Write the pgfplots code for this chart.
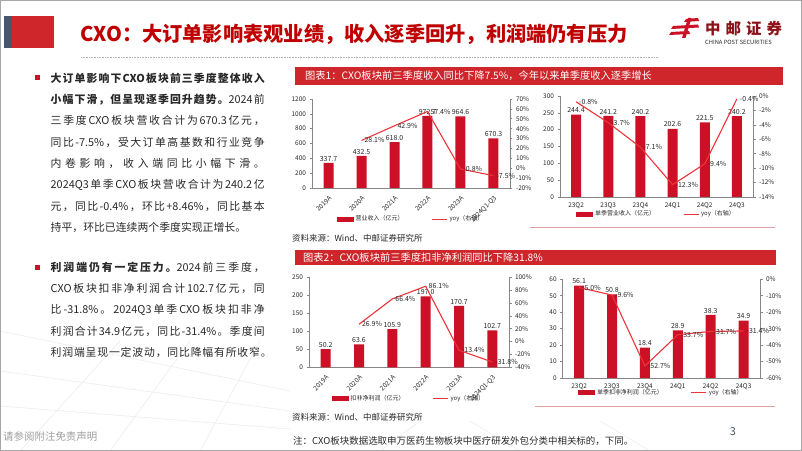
\documentclass[border=0pt]{standalone}
\usepackage{fontspec}
\setmainfont{Noto Sans CJK SC}
\usepackage{pgfplots}
\pgfplotsset{compat=1.18}

% give CJK characters their own class and put stretchable glue between them,
% so that \makebox[..][s] can justify a line
\makeatletter
\count@="4E00
\loop\ifnum\count@<"A000 \XeTeXcharclass\count@=7 \advance\count@\@ne\repeat
\XeTeXcharclass"FF0C=7 \XeTeXcharclass"3002=7 \XeTeXcharclass"3001=7
\XeTeXcharclass"FF1A=7 \XeTeXcharclass"FF08=7 \XeTeXcharclass"FF09=7
\makeatother
\XeTeXinterchartokenstate=1
\newcommand{\cjkglue}{\hskip 0pt plus 1fil\relax}
\XeTeXinterchartoks 7 7 = {\cjkglue}
\XeTeXinterchartoks 0 7 = {\cjkglue}
\XeTeXinterchartoks 7 0 = {\cjkglue}

\definecolor{barred}{RGB}{204,16,38}
\definecolor{linered}{RGB}{236,52,58}
\definecolor{banner}{RGB}{206,38,42}
\definecolor{titlered}{RGB}{192,0,0}
\definecolor{txt}{RGB}{40,40,40}
\definecolor{axgray}{RGB}{135,135,135}
\definecolor{slate}{RGB}{70,86,108}
\definecolor{logored}{RGB}{140,18,24}
\definecolor{pinkline}{RGB}{226,160,160}

\newcommand{\jl}[1]{\makebox[214bp][s]{#1}}

\pgfplotsset{
  base/.style={
    scale only axis, clip=false,
    xmin=-0.5, xmax=5.5, xtick={0,...,5},
    scaled y ticks=false,
    tick label style={font=\fontsize{6.5}{7}\selectfont, text=txt},
    /pgf/number format/assume math mode=true,
    /pgf/number format/1000 sep={},
    axis line style={draw=axgray, line width=0.6bp, -},
    every tick/.style={draw=axgray, line width=0.6bp},
    tick align=outside, major tick length=2.5bp,
  },
  bax/.style={base, axis y line*=left, axis x line*=bottom,
    xtick style={draw=none},
    legend style={draw=none, fill=none, font=\fontsize{6}{7}\selectfont,
      text=txt, legend columns=2,
      /tikz/every even column/.append style={column sep=26bp}},
    legend cell align=left},
  lax/.style={base, axis y line*=right, axis x line=none,
    yticklabel={\pgfmathprintnumber{\tick}\%}},
  barplot/.style={ybar, bar width=10bp, fill=barred, draw=none,
    point meta=explicit symbolic, nodes near coords,
    nodes near coords style={font=\fontsize{7}{8}\selectfont, text=txt, inner sep=1.5bp},
    legend image code/.code={\fill[barred] (0bp,-2.5bp) rectangle (17bp,2.5bp);}},
  yoyline/.style={linered, line width=1.1bp, mark=none,
    point meta=explicit symbolic, nodes near coords={\pgfplotspointmeta\%},
    nodes near coords style={anchor=west, xshift=1.5bp,
      font=\fontsize{7}{8}\selectfont, text=txt, inner sep=1bp}},
  lineleg/.style={legend image code/.code={\draw[linered, line width=1.1bp] (0bp,0bp) -- (15bp,0bp);}},
}

\begin{document}
\begin{tikzpicture}
\useasboundingbox (0,0) rectangle (802bp,451bp);
\fill[white] (0,0) rectangle (802bp,451bp);

% faint background lines
\begin{scope}[gray!14, line width=0.6bp]
\draw (0bp,120bp) -- (290bp,60bp);
\draw (0bp,80bp) -- (290bp,40bp);
\draw (0bp,45bp) -- (290bp,22bp);
\draw (20bp,0bp) -- (120bp,110bp);
\draw (110bp,0bp) -- (190bp,110bp);
\draw (200bp,0bp) -- (260bp,110bp);
\draw (380bp,0bp) -- (420bp,30bp);
\draw (520bp,0bp) -- (470bp,30bp);
\draw (650bp,0bp) -- (600bp,30bp);
\end{scope}
\draw[gray!70, line width=1bp] (0.5bp,0.5bp) rectangle (801.5bp,450.5bp);

% header
\fill[slate] (4bp,403.3bp) rectangle (11.7bp,435bp);
\fill[banner] (12.3bp,403.3bp) rectangle (54.3bp,435bp);
\node[anchor=west, inner sep=0, text=titlered, font=\fontsize{20.3}{21}\selectfont\bfseries]
  at (80bp,416.5bp) {CXO：大订单影响表观业绩，收入逐季回升，利润端仍有压力};
\draw[gray!60, densely dotted, line width=0.6bp] (81bp,394bp) -- (658bp,394bp);

% logo
\fill[barred] (684bp,429bp) -- (699bp,430bp) -- (698bp,433bp) -- (686bp,432bp) -- cycle;
\fill[barred] (671bp,422bp) -- (699bp,423.5bp) -- (698bp,426.5bp) -- (673bp,425bp) -- cycle;
\fill[barred] (669bp,416bp) -- (690bp,417bp) -- (689bp,420bp) -- (671bp,419bp) -- cycle;
\fill[barred] (688bp,433bp) -- (691.5bp,433bp) -- (685.5bp,413bp) -- (682bp,413bp) -- cycle;
\node[anchor=west, inner sep=0, text=logored, font=\fontsize{15.5}{16}\selectfont\bfseries]
  at (705bp,422bp) {中\hspace{5bp}邮\hspace{5bp}证\hspace{5bp}券};
\node[anchor=west, inner sep=0, text=txt, font=\fontsize{5.8}{6}\selectfont]
  at (705bp,409bp) {CHINA POST SECURITIES};

% left text
\fill[barred] (34.5bp,370.5bp) rectangle (39.5bp,375.5bp);
\begin{scope}[every node/.style={anchor=west, inner sep=0, text=txt, font=\fontsize{10.9}{12}\selectfont}]
\node at (50.5bp,373bp) {\jl{\bfseries 大订单影响下CXO板块前三季度整体收入}};
\node at (50.5bp,351.6bp) {\jl{{\bfseries 小幅下滑，但呈现逐季回升趋势。}2024前}};
\node at (50.5bp,330.2bp) {\jl{三季度CXO板块营收合计为670.3亿元，}};
\node at (50.5bp,308.8bp) {\jl{同比-7.5\%，受大订单高基数和行业竞争}};
\node at (50.5bp,287.4bp) {\jl{内卷影响，收入端同比小幅下滑。}};
\node at (50.5bp,266bp) {\jl{2024Q3单季CXO板块营收合计为240.2亿}};
\node at (50.5bp,244.6bp) {\jl{元，同比-0.4\%，环比+8.46\%，同比基本}};
\node at (50.5bp,223.2bp) {持平，环比已连续两个季度实现正增长。};
\node at (50.5bp,183.5bp) {\jl{{\bfseries 利润端仍有一定压力。}2024前三季度，}};
\node at (50.5bp,162.3bp) {\jl{CXO板块扣非净利润合计102.7亿元，同}};
\node at (50.5bp,141.1bp) {\jl{比-31.8\%。2024Q3单季CXO板块扣非净}};
\node at (50.5bp,119.9bp) {\jl{利润合计34.9亿元，同比-31.4\%。季度间}};
\node at (50.5bp,98.7bp) {\makebox[221bp][s]{利润端呈现一定波动，同比降幅有所收窄。}};
\end{scope}
\fill[barred] (34.5bp,181bp) rectangle (39.5bp,186bp);

% footer
\node[anchor=west, inner sep=0, text=gray!75, font=\fontsize{10.5}{11}\selectfont]
  at (3bp,14bp) {请参阅附注免责声明};
\node[anchor=west, inner sep=0, text=txt, font=\fontsize{9.5}{10}\selectfont]
  at (293bp,10bp) {注：CXO板块数据选取申万医药生物板块中医疗研发外包分类中相关标的，下同。};
\node[inner sep=0, text=slate, font=\fontsize{11}{12}\selectfont] at (733bp,19bp) {3};

% banners
\fill[banner] (295bp,366bp) rectangle (783bp,384bp);
\node[anchor=west, inner sep=0, text=white, font=\fontsize{10.3}{11}\selectfont]
  at (305bp,375bp) {图表1：CXO板块前三季度收入同比下降7.5\%，今年以来单季度收入逐季增长};
\fill[banner] (295bp,185.5bp) rectangle (776bp,201bp);
\node[anchor=west, inner sep=0, text=white, font=\fontsize{10.3}{11}\selectfont]
  at (303bp,193.3bp) {图表2：CXO板块前三季度扣非净利润同比下降31.8\%};

\draw[pinkline, line width=1bp] (530bp,223bp) -- (775bp,223bp);
\draw[pinkline, line width=1bp] (535bp,44bp) -- (775bp,44bp);

\node[anchor=west, inner sep=0, text=txt, font=\fontsize{8.5}{9}\selectfont]
  at (292bp,213bp) {资料来源：Wind、中邮证券研究所};
\node[anchor=west, inner sep=0, text=txt, font=\fontsize{8.5}{9}\selectfont]
  at (292bp,34bp) {资料来源：Wind、中邮证券研究所};

% chart 1: annual revenue
\begin{axis}[bax, at={(312bp,263bp)}, anchor=south west, width=198bp, height=89bp,
  ymin=0, ymax=1200, ytick={0,200,...,1200},
  xticklabels={2019A,2020A,2021A,2022A,2023A,2024Q1-Q3},
  xticklabel style={rotate=45, anchor=north east},
  legend style={at={(0.5,-0.35)}, anchor=center}]
\addplot[barplot] table[meta=l] {
x y l
0 337.7 337.7
1 432.5 432.5
2 618.0 618.0
3 972.7 972.7
4 964.6 964.6
5 670.3 670.3
};
\addlegendentry{营业收入（亿元）}
\addlegendimage{lineleg}
\addlegendentry{yoy（右轴）}
\end{axis}
\begin{axis}[lax, at={(312bp,263bp)}, anchor=south west, width=198bp, height=89bp,
  ymin=-20, ymax=70, ytick={-20,-10,...,70}]
\addplot[yoyline] table[meta=l] {
x y l
1 28.1 28.1
2 42.9 42.9
3 57.4 57.4
4 -0.8 -0.8
5 -7.5 -7.5
};
\end{axis}

% chart 2: quarterly revenue
\begin{axis}[bax, at={(560bp,254bp)}, anchor=south west, width=193bp, height=101bp,
  ymin=0, ymax=300, ytick={0,50,...,300},
  xticklabels={23Q2,23Q3,23Q4,24Q1,24Q2,24Q3},
  legend style={at={(0.5,-0.17)}, anchor=center}]
\addplot[barplot] table[meta=l] {
x y l
0 244.4 244.4
1 241.2 241.2
2 240.2 240.2
3 202.6 202.6
4 221.5 221.5
5 240.2 240.2
};
\addlegendentry{单季营业收入（亿元）}
\addlegendimage{lineleg}
\addlegendentry{yoy（右轴）}
\end{axis}
\begin{axis}[lax, at={(560bp,254bp)}, anchor=south west, width=193bp, height=101bp,
  ymin=-14, ymax=0, ytick={-14,-12,...,0}]
\addplot[yoyline] table[meta=l] {
x y l
0 -0.8 -0.8
1 -3.7 -3.7
2 -7.1 -7.1
3 -12.3 -12.3
4 -9.4 -9.4
5 -0.4 -0.4
};
\end{axis}

% chart 3: annual net profit
\begin{axis}[bax, at={(309bp,83.7bp)}, anchor=south west, width=200bp, height=90bp,
  ymin=0, ymax=250, ytick={0,50,...,250},
  xticklabels={2019A,2020A,2021A,2022A,2023A,2024Q1-Q3},
  xticklabel style={rotate=45, anchor=north east},
  legend style={at={(0.5,-0.35)}, anchor=center}]
\addplot[barplot] table[meta=l] {
x y l
0 50.2 50.2
1 63.6 63.6
2 105.9 105.9
3 197.0 197.0
4 170.7 170.7
5 102.7 102.7
};
\addlegendentry{扣非净利润（亿元）}
\addlegendimage{lineleg}
\addlegendentry{yoy（右轴）}
\end{axis}
\begin{axis}[lax, at={(309bp,83.7bp)}, anchor=south west, width=200bp, height=90bp,
  ymin=-40, ymax=100, ytick={-40,-20,...,100}]
\addplot[yoyline] table[meta=l] {
x y l
1 26.9 26.9
2 66.4 66.4
3 86.1 86.1
4 -13.4 -13.4
5 -31.8 -31.8
};
\end{axis}

% chart 4: quarterly net profit
\begin{axis}[bax, at={(562.7bp,73bp)}, anchor=south west, width=197.3bp, height=98.7bp,
  ymin=0, ymax=60, ytick={0,10,...,60},
  xticklabels={23Q2,23Q3,23Q4,24Q1,24Q2,24Q3},
  legend style={at={(0.5,-0.15)}, anchor=center}]
\addplot[barplot] table[meta=l] {
x y l
0 56.1 56.1
1 50.8 50.8
2 18.4 18.4
3 28.9 28.9
4 38.3 38.3
5 34.9 34.9
};
\addlegendentry{单季扣非净利润（亿元）}
\addlegendimage{lineleg}
\addlegendentry{yoy（右轴）}
\end{axis}
\begin{axis}[lax, at={(562.7bp,73bp)}, anchor=south west, width=197.3bp, height=98.7bp,
  ymin=-60, ymax=0, ytick={-60,-50,...,0}]
\addplot[yoyline] table[meta=l] {
x y l
0 -5.0 -5.0
1 -9.6 -9.6
2 -52.7 -52.7
3 -33.7 -33.7
4 -31.7 -31.7
5 -31.4 -31.4
};
\end{axis}
\end{tikzpicture}
\end{document}
